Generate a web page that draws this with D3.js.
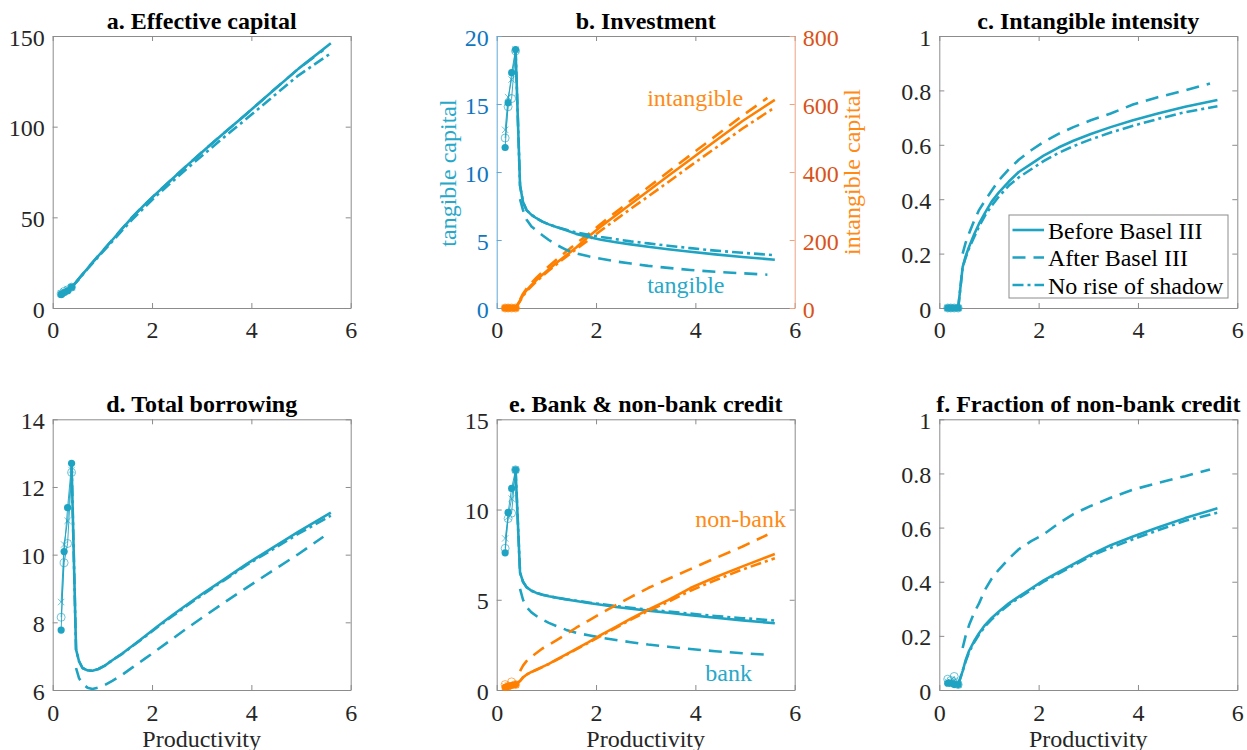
<!DOCTYPE html>
<html><head><meta charset="utf-8">
<script src="https://cdn.jsdelivr.net/npm/d3@7"></script>
<style>body{margin:0;background:#fff} text{font-family:"Liberation Serif","Times New Roman",serif}</style>
</head><body><svg id="c" width="1247" height="750"></svg>
<script>
// ---------------- DATA ----------------
const xTicks = [0, 2, 4, 6];
const xLow = [0.17, 0.23, 0.30, 0.38];
const xBefore = [0.38,0.47,0.53,0.6,0.7,0.8,0.92,1.05,1.2,1.4,1.6,1.85,2.1,2.4,2.7,3.05,3.45,3.9,4.4,4.95,5.6];
const xNoRise = [0.38,0.47,0.53,0.6,0.7,0.8,0.92,1.05,1.2,1.4,1.6,1.85,2.1,2.4,2.7,3.05,3.45,3.9,4.4,4.95,5.6];
const xAfter  = [0.47,0.53,0.6,0.7,0.8,0.92,1.05,1.2,1.4,1.6,1.85,2.1,2.4,2.7,3.05,3.45,3.9,4.4,4.95,5.45];
const legendLabels = ["Before Basel III", "After Basel III", "No rise of shadow"];

// a. Effective capital
const capTicks = [0, 50, 100, 150];
const capBefore = [11.5,14.2,16.2,18.5,21.8,25,28.8,32.8,37.5,43.8,50,57,63.5,71,78.5,87,96.5,107,119,132,146];
const capAfter  = [14.3,16.3,18.6,21.9,25.1,28.9,32.9,37.6,43.9,50.1,57,63.5,71,78.5,87,96.5,107,119,132,142.3];
const capNoRise = [11.5,14.1,16.0,18.3,21.5,24.6,28.3,32.2,36.7,42.8,48.8,55.5,62.2,69.5,76.8,85,94.2,104.3,115.8,128.3,140.5];
const capLowBefore = [7.5, 8.5, 9.5, 11.5];
const capLowAfter  = [7.8, 9.0, 10.0, 11.5];
const capLowNoRise = [8.0, 9.2, 10.5, 11.5];

// b. Investment (tangible: left axis, intangible: right axis)
const tanTicks = [0, 5, 10, 15, 20];
const intTicks = [0, 200, 400, 600, 800];
const tanBefore = [19.0,9.0,7.8,7.2,6.85,6.6,6.35,6.15,5.95,5.72,5.45,5.22,5.02,4.84,4.68,4.5,4.32,4.14,3.94,3.75,3.55];
const tanNoRise = [19.0,9.0,7.8,7.2,6.85,6.6,6.35,6.15,5.95,5.75,5.55,5.38,5.22,5.06,4.9,4.75,4.58,4.4,4.22,4.06,3.88];
const tanAfter  = [8.0,7.2,6.5,6.0,5.7,5.35,5.0,4.65,4.28,4.02,3.8,3.62,3.42,3.27,3.1,2.95,2.8,2.66,2.55,2.45];
const tanLowBefore = [11.8, 15.1, 17.3, 19.0];
const tanLowAfter  = [12.5, 14.8, 15.4, 18.9];
const tanLowNoRise = [13.1, 15.5, 16.8, 19.0];
const intBefore = [0,22,38,52,68,82,98,114,132,155,178,210,240,273,306,344,388,437,491,550,612];
const intAfter  = [25,42,57,74,89,106,123,142,166,190,218,248,282,316,355,400,450,505,566,618];
const intNoRise = [0,20,35,49,64,78,94,110,128,151,173,200,228,260,292,328,370,418,470,528,590];
const intLowBefore = [0, 0, 0, 0];
const intLowAfter  = [0, 0, 0, 0];
const intLowNoRise = [0, 0, 0, 0];

// c. Intangible intensity
const intenTicks = [0, 0.2, 0.4, 0.6, 0.8, 1];
const intenBefore = [0,0.15,0.19,0.225,0.27,0.31,0.35,0.39,0.425,0.465,0.5,0.53,0.56,0.59,0.615,0.64,0.665,0.69,0.715,0.74,0.765];
const intenAfter  = [0.2,0.24,0.275,0.32,0.36,0.395,0.43,0.47,0.51,0.545,0.58,0.61,0.64,0.665,0.69,0.715,0.748,0.775,0.8,0.825];
const intenNoRise = [0,0.15,0.185,0.22,0.26,0.3,0.34,0.375,0.41,0.45,0.48,0.51,0.54,0.57,0.595,0.62,0.645,0.67,0.695,0.72,0.742];
const intenLowBefore = [0, 0, 0, 0];
const intenLowAfter  = [0, 0, 0, 0];
const intenLowNoRise = [0, 0, 0, 0];

// d. Total borrowing
const borTicks = [6, 8, 10, 12, 14];
const borBefore = [12.7,7.2,6.85,6.65,6.58,6.57,6.62,6.72,6.88,7.08,7.3,7.58,7.87,8.2,8.52,8.88,9.27,9.72,10.18,10.68,11.24];
const borNoRise = [12.7,7.2,6.85,6.65,6.58,6.57,6.62,6.72,6.88,7.07,7.29,7.56,7.85,8.17,8.49,8.85,9.24,9.69,10.13,10.62,11.15];
const borAfter  = [6.65,6.35,6.18,6.07,6.03,6.07,6.15,6.27,6.45,6.66,6.92,7.18,7.5,7.82,8.18,8.58,9.02,9.5,10.02,10.53];
const borLowBefore = [7.77, 10.09, 11.39, 12.7];
const borLowAfter  = [8.15, 9.76, 10.33, 12.43];
const borLowNoRise = [8.6, 10.3, 11.0, 12.5];

// e. Bank & non-bank credit
const credTicks = [0, 5, 10, 15];
const bankBefore = [12.2,6.5,6.0,5.7,5.5,5.38,5.28,5.2,5.12,5.02,4.93,4.82,4.72,4.6,4.5,4.4,4.28,4.15,4.0,3.86,3.7];
const bankNoRise = [12.2,6.5,6.0,5.7,5.5,5.38,5.28,5.2,5.12,5.03,4.95,4.85,4.76,4.65,4.56,4.45,4.35,4.23,4.1,3.98,3.85];
const bankAfter  = [5.6,5.0,4.6,4.3,4.1,3.9,3.72,3.55,3.33,3.17,3.03,2.9,2.77,2.65,2.52,2.4,2.27,2.15,2.04,1.95];
const nbBefore = [0.3,0.5,0.7,0.85,1.0,1.12,1.28,1.45,1.68,1.98,2.28,2.65,3.05,3.5,3.95,4.45,4.98,5.65,6.25,6.85,7.54];
const nbNoRise = [0.3,0.5,0.7,0.85,1.0,1.12,1.27,1.44,1.66,1.95,2.25,2.62,3.0,3.45,3.9,4.38,4.88,5.5,6.08,6.68,7.3];
const nbAfter  = [1.05,1.35,1.6,1.85,2.05,2.3,2.5,2.75,3.1,3.45,3.85,4.25,4.7,5.15,5.65,6.15,6.7,7.3,7.95,8.6];
const bankLowBefore = [7.6, 9.84, 11.17, 12.2];
const bankLowAfter  = [7.85, 9.5, 9.8, 12.2];
const bankLowNoRise = [8.4, 9.6, 10.6, 12.2];
const nbLowBefore = [0.15, 0.2, 0.25, 0.3];
const nbLowAfter  = [0.3, 0.2, 0.45, 0.3];
const nbLowNoRise = [0.2, 0.25, 0.3, 0.3];

// f. Fraction of non-bank credit
const fracTicks = [0, 0.2, 0.4, 0.6, 0.8, 1];
const fracBefore = [0.02,0.07,0.11,0.145,0.18,0.21,0.24,0.265,0.29,0.32,0.345,0.375,0.405,0.435,0.465,0.5,0.535,0.567,0.6,0.635,0.671];
const fracNoRise = [0.02,0.07,0.105,0.14,0.175,0.205,0.235,0.26,0.285,0.315,0.34,0.37,0.4,0.43,0.46,0.495,0.525,0.557,0.59,0.625,0.655];
const fracAfter  = [0.155,0.2,0.24,0.285,0.32,0.37,0.41,0.445,0.485,0.52,0.55,0.575,0.615,0.65,0.68,0.71,0.74,0.765,0.79,0.815];
const fracLowBefore = [0.025, 0.025, 0.02, 0.02];
const fracLowAfter  = [0.04, 0.035, 0.05, 0.02];
const fracLowNoRise = [0.03, 0.03, 0.035, 0.02];

// ---------------- STYLE / LAYOUT ----------------
const TEAL = '#1fa3c2', ORANGE = '#ff8000', TXT = '#262626', AX = '#8c8c8c';
const TEAL_TXT = '#27a8c9', ORANGE_TXT = '#ff8a14';
const DASH = '13,8', DASHDOT = '11,4,3,4';
const COLS = [52.7, 496.7, 939.3], PW = 298, ROWS = [36, 419.3], PH = [272, 270.7];
const FS = 24;
const SERIF = '"Liberation Serif", "Times New Roman", serif';

const svg = d3.select('#c');

function styleAxis(sel, color, textColor) {
  sel.attr('font-size', FS).attr('font-family', SERIF);
  sel.selectAll('.domain').attr('stroke', color).attr('stroke-width', 1);
  sel.selectAll('.tick line').attr('stroke', color).attr('stroke-width', 1);
  sel.selectAll('.tick text').attr('fill', textColor).attr('font-family', SERIF);
}

function makePanel(col, row, yDomain, yTicks, title, o = {}) {
  const w = PW, h = PH[row];
  const g = svg.append('g').attr('transform', `translate(${COLS[col]},${ROWS[row]})`);
  const x = d3.scaleLinear().domain([0, 6]).range([0, w]);
  const y = d3.scaleLinear().domain(yDomain).range([h, 0]);
  const yR = o.yRDomain ? d3.scaleLinear().domain(o.yRDomain).range([h, 0]) : null;
  const fmt = d => String(d);

  const axT = g.append('g').call(d3.axisTop(x).tickValues(xTicks).tickSizeInner(-5).tickSizeOuter(0).tickFormat(''));
  styleAxis(axT, AX, TXT);
  const axB = g.append('g').attr('transform', `translate(0,${h})`)
    .call(d3.axisBottom(x).tickValues(xTicks).tickSizeInner(-5).tickSizeOuter(0).tickFormat(fmt));
  styleAxis(axB, AX, TXT);
  axB.selectAll('.tick text').attr('y', row === 0 ? 29.5 : 30.5).attr('dy', 0);

  const axL = g.append('g').call(d3.axisLeft(y).tickValues(yTicks).tickSizeInner(-5).tickSizeOuter(0).tickFormat(fmt));
  styleAxis(axL, o.leftColor || AX, o.leftText || TXT);
  axL.selectAll('.tick text').attr('x', -8).attr('dy', 9);

  const axR = g.append('g').attr('transform', `translate(${w},0)`);
  if (yR) {
    axR.call(d3.axisRight(yR).tickValues(o.yRTicks).tickSizeInner(-5).tickSizeOuter(0).tickFormat(fmt));
    styleAxis(axR, o.rightColor, o.rightText);
    axR.selectAll('.tick text').attr('x', 8).attr('dy', 9);
  } else {
    axR.call(d3.axisRight(y).tickValues(yTicks).tickSizeInner(-5).tickSizeOuter(0).tickFormat(''));
    styleAxis(axR, AX, TXT);
  }

  g.append('text').attr('x', w / 2).attr('y', row === 0 ? -6.7 : -7.6)
    .attr('text-anchor', 'middle').attr('font-weight', 'bold').attr('font-size', FS)
    .attr('font-family', SERIF).attr('fill', '#000').text(title);
  if (row === 1) {
    g.append('text').attr('x', w / 2).attr('y', h + 57).attr('text-anchor', 'middle')
      .attr('font-size', FS).attr('font-family', SERIF).attr('fill', TXT).text('Productivity');
  }
  return { g, x, y, yR, w, h };
}

function drawGroup(p, ys, color, sets, low) {
  const yS = ys;
  const line = d3.line().x(d => p.x(d[0])).y(d => yS(d[1]));
  const lg = p.g.append('g');
  low.forEach(arr => {
    lg.append('path').datum(d3.zip(xLow, arr)).attr('d', line)
      .attr('fill', 'none').attr('stroke', color).attr('stroke-width', 0.9);
  });
  lg.selectAll('circle.fd').data(d3.zip(xLow, low[0])).join('circle').attr('class', 'fd')
    .attr('cx', d => p.x(d[0])).attr('cy', d => yS(d[1])).attr('r', 3.6).attr('fill', color);
  lg.selectAll('circle.oc').data(d3.zip(xLow, low[1])).join('circle').attr('class', 'oc')
    .attr('cx', d => p.x(d[0])).attr('cy', d => yS(d[1])).attr('r', 4).attr('fill', 'none')
    .attr('stroke', color).attr('stroke-width', 0.8).attr('opacity', 0.8);
  lg.selectAll('path.xm').data(d3.zip(xLow, low[2])).join('path').attr('class', 'xm')
    .attr('d', d => { const cx = p.x(d[0]), cy = yS(d[1]), s = 3.2;
      return `M${cx - s},${cy - s}L${cx + s},${cy + s}M${cx - s},${cy + s}L${cx + s},${cy - s}`; })
    .attr('stroke', color).attr('stroke-width', 0.8).attr('fill', 'none').attr('opacity', 0.8);

  const [bef, aft, nor] = sets;
  const main = [
    { xs: xAfter, v: aft, dash: DASH },
    { xs: xNoRise, v: nor, dash: DASHDOT },
    { xs: xBefore, v: bef, dash: null }
  ];
  main.forEach(s => {
    p.g.append('path').datum(d3.zip(s.xs, s.v)).attr('d', line)
      .attr('fill', 'none').attr('stroke', color).attr('stroke-width', 2.6)
      .attr('stroke-linejoin', 'round')
      .attr('stroke-dasharray', s.dash);
  });
}

function label(p, txt, x, y, color, extra) {
  const t = p.g.append('text').attr('font-size', FS).attr('font-family', SERIF).attr('fill', color).text(txt);
  if (extra) t.attr('transform', extra).attr('text-anchor', 'middle');
  else t.attr('x', x).attr('y', y);
  return t;
}

// a
const pa = makePanel(0, 0, [0, 150], capTicks, 'a. Effective capital');
drawGroup(pa, pa.y, TEAL, [capBefore, capAfter, capNoRise], [capLowBefore, capLowAfter, capLowNoRise]);

// b
const pb = makePanel(1, 0, [0, 20], tanTicks, 'b. Investment', {
  leftColor: '#62a9da', leftText: '#1176c0',
  yRDomain: [0, 800], yRTicks: intTicks, rightColor: '#eea27f', rightText: '#d95319'
});
drawGroup(pb, pb.yR, ORANGE, [intBefore, intAfter, intNoRise], [intLowBefore, intLowAfter, intLowNoRise]);
drawGroup(pb, pb.y, TEAL, [tanBefore, tanAfter, tanNoRise], [tanLowBefore, tanLowAfter, tanLowNoRise]);
label(pb, 'tangible capital', 0, 0, TEAL_TXT, `translate(-40.7,${pb.h / 2 + 1}) rotate(-90)`);
label(pb, 'intangible capital', 0, 0, ORANGE_TXT, `translate(${pb.w + 65.3},${pb.h / 2}) rotate(-90)`);
label(pb, 'intangible', pb.x(3.03), pb.y(14.85), ORANGE_TXT);
label(pb, 'tangible', pb.x(3.03), pb.y(1.1), TEAL_TXT);

// c
const pc = makePanel(2, 0, [0, 1], intenTicks, 'c. Intangible intensity');
drawGroup(pc, pc.y, TEAL, [intenBefore, intenAfter, intenNoRise], [intenLowBefore, intenLowAfter, intenLowNoRise]);
{
  const lg = pc.g.append('g').attr('transform', 'translate(69.7,179)');
  lg.append('rect').attr('width', 219).attr('height', 83).attr('fill', '#fff')
    .attr('stroke', AX).attr('stroke-width', 1);
  const dashes = [null, DASH, DASHDOT];
  legendLabels.forEach((t, i) => {
    const yy = 15 + i * 27.5;
    lg.append('line').attr('x1', 3.5).attr('x2', 35).attr('y1', yy).attr('y2', yy)
      .attr('stroke', TEAL).attr('stroke-width', 2.6).attr('stroke-dasharray', dashes[i]);
    lg.append('text').attr('x', 39).attr('y', yy + 8.5).attr('font-size', FS)
      .attr('font-family', SERIF).attr('fill', '#000').text(t);
  });
}

// d
const pd = makePanel(0, 1, [6, 14], borTicks, 'd. Total borrowing');
drawGroup(pd, pd.y, TEAL, [borBefore, borAfter, borNoRise], [borLowBefore, borLowAfter, borLowNoRise]);

// e
const pe = makePanel(1, 1, [0, 15], credTicks, 'e. Bank & non-bank credit');
drawGroup(pe, pe.y, TEAL, [bankBefore, bankAfter, bankNoRise], [bankLowBefore, bankLowAfter, bankLowNoRise]);
drawGroup(pe, pe.y, ORANGE, [nbBefore, nbAfter, nbNoRise], [nbLowBefore, nbLowAfter, nbLowNoRise]);
label(pe, 'non-bank', pe.x(4.0), pe.y(9.05), ORANGE_TXT);
label(pe, 'bank', pe.x(4.2), pe.y(0.52), TEAL_TXT);

// f
const pf = makePanel(2, 1, [0, 1], fracTicks, 'f. Fraction of non-bank credit');
drawGroup(pf, pf.y, TEAL, [fracBefore, fracAfter, fracNoRise], [fracLowBefore, fracLowAfter, fracLowNoRise]);
</script>
</body></html>
